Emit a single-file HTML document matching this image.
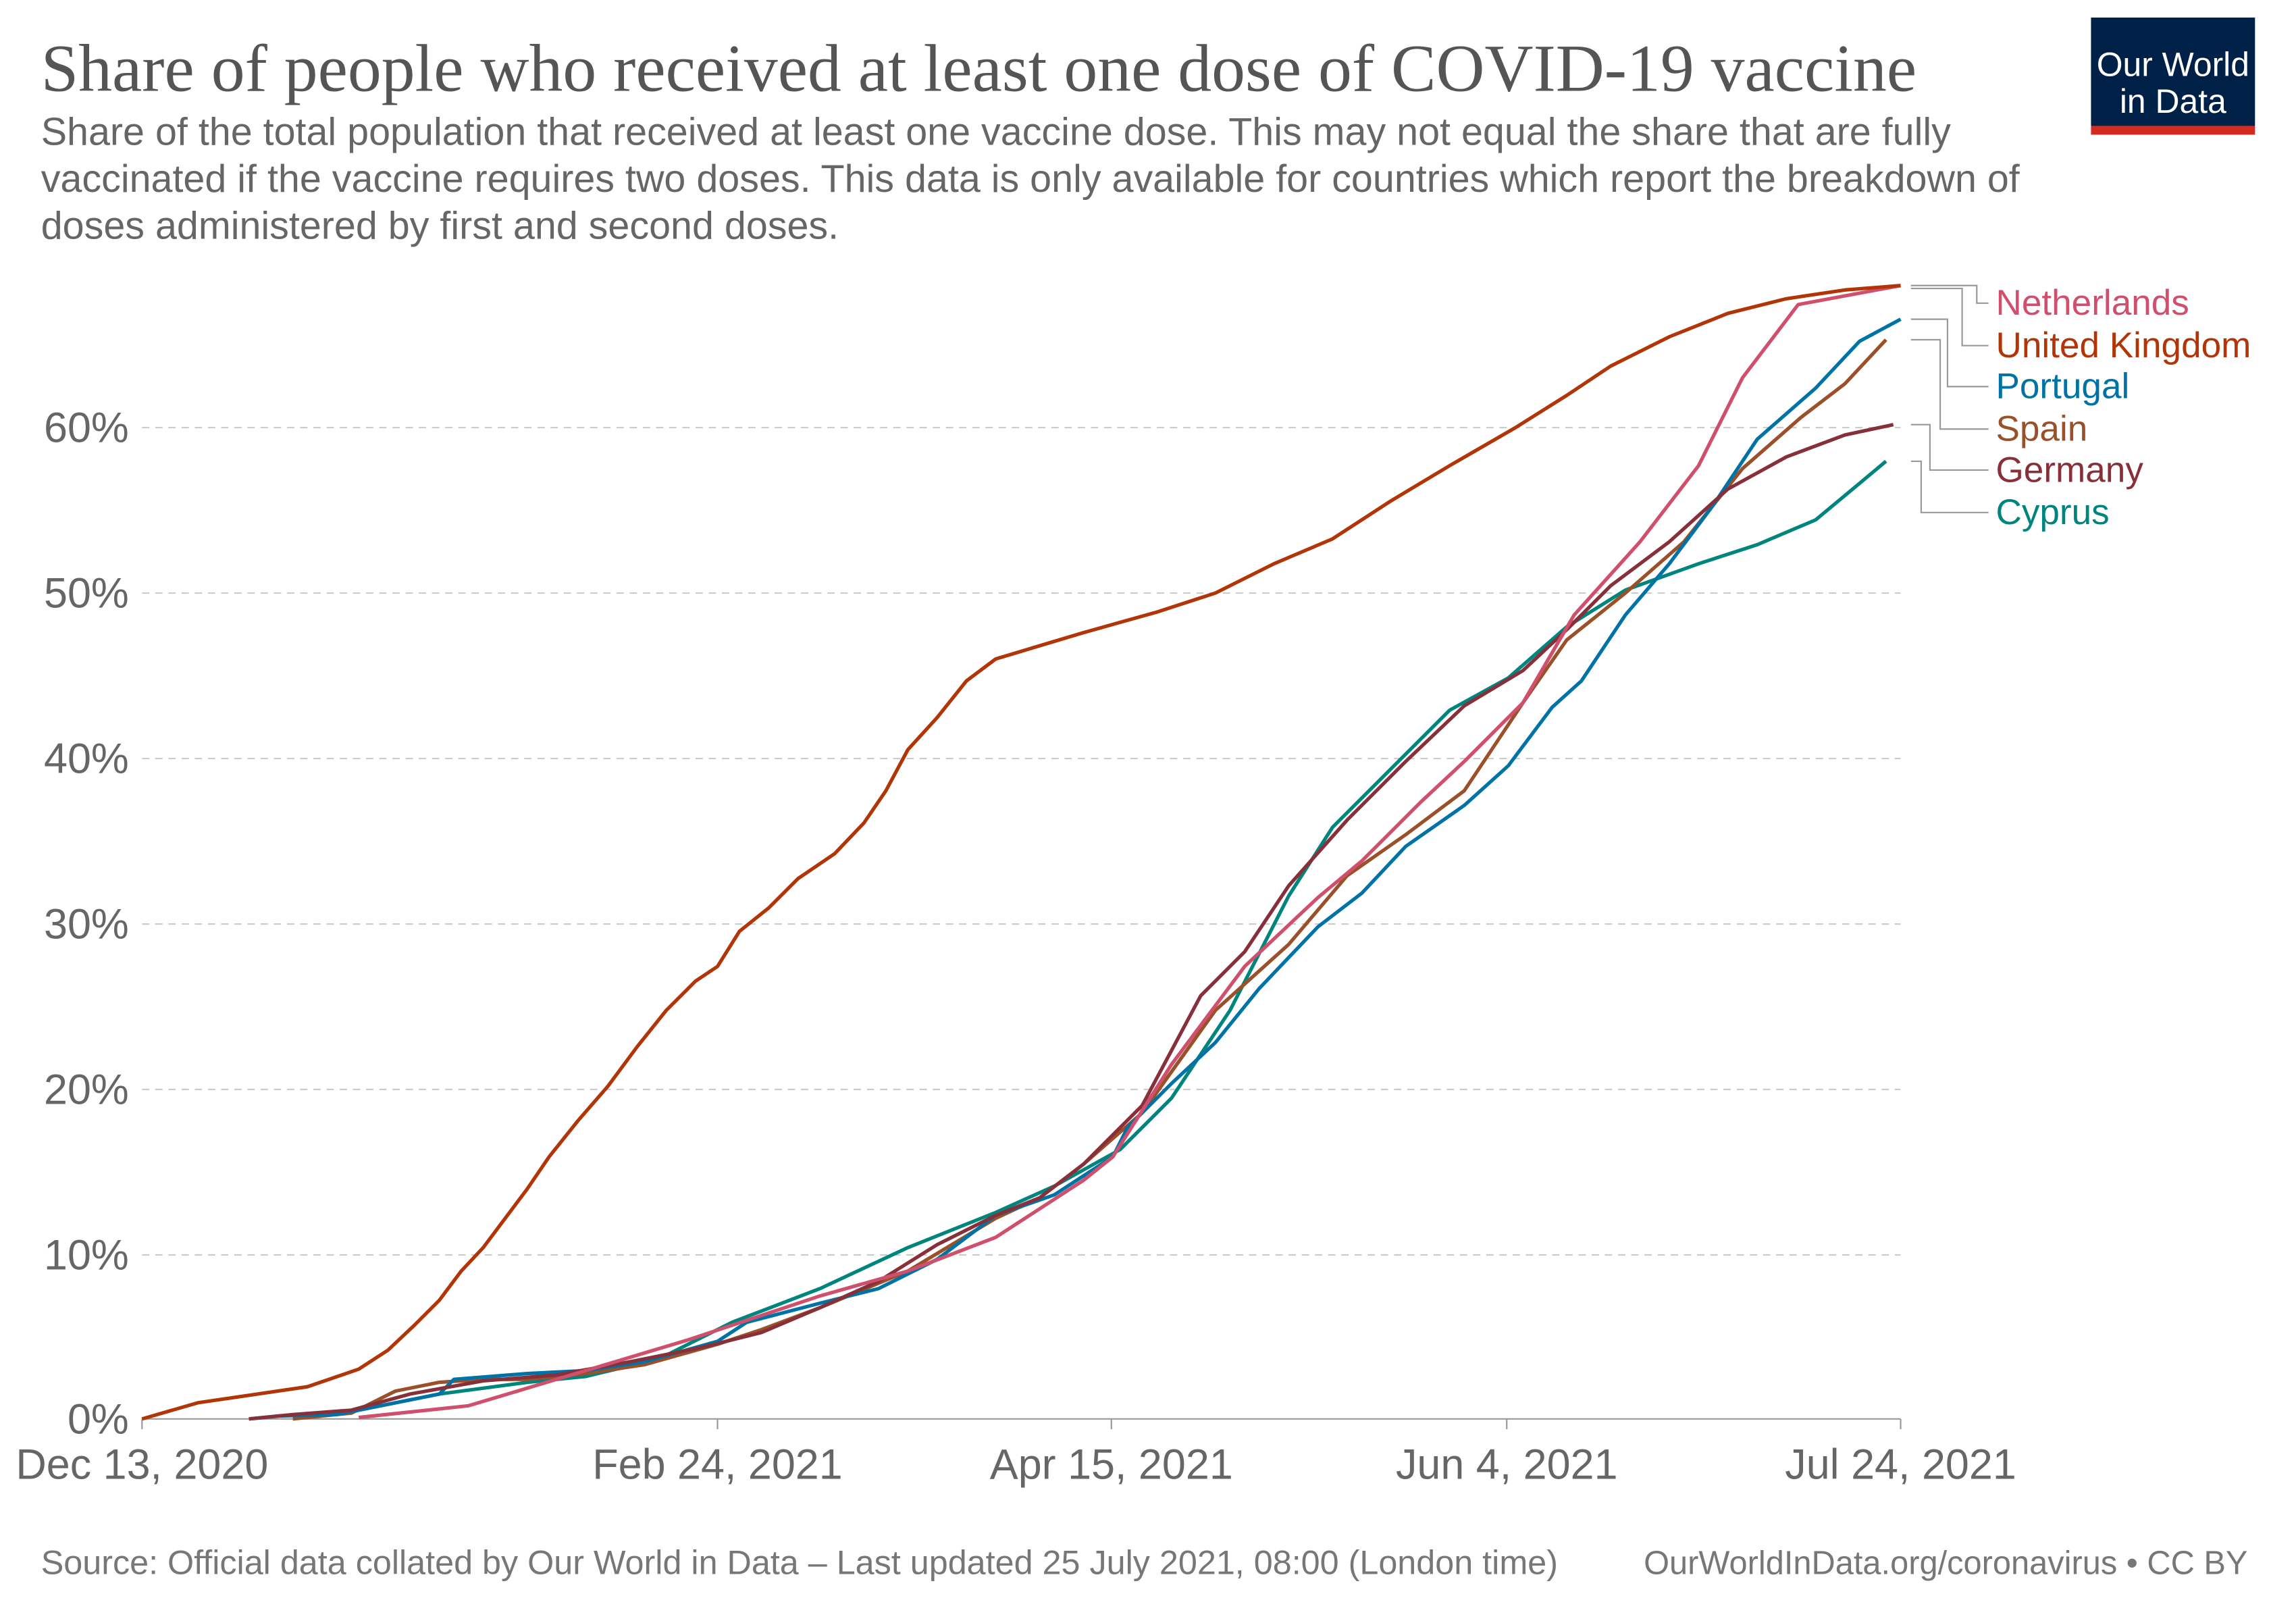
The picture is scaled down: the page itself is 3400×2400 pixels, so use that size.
<!DOCTYPE html>
<html><head><meta charset="utf-8"><style>html,body{margin:0;padding:0;background:#fff}svg{display:block}</style></head>
<body>
<svg width="3400" height="2400" viewBox="0 0 1568 1107" preserveAspectRatio="none" xmlns="http://www.w3.org/2000/svg" font-family="Liberation Sans, sans-serif">
<rect width="1568" height="1107" fill="#fff"/>
<text x="28" y="62" font-family="Liberation Serif, serif" font-size="46" fill="#555">Share of people who received at least one dose of COVID-19 vaccine</text>
<g font-size="26.5" fill="#666">
<text x="28" y="99">Share of the total population that received at least one vaccine dose. This may not equal the share that are fully</text>
<text x="28" y="131">vaccinated if the vaccine requires two doses. This data is only available for countries which report the breakdown of</text>
<text x="28" y="163">doses administered by first and second doses.</text>
</g>
<rect x="1428" y="12" width="112" height="74" fill="#002147"/>
<rect x="1428" y="86" width="112" height="6" fill="#d42b21"/>
<text x="1484" y="52" font-size="23" fill="#fff" text-anchor="middle">Our World</text>
<text x="1484" y="77" font-size="23" fill="#fff" text-anchor="middle">in Data</text>
<g stroke="#ccc" stroke-dasharray="5,4" stroke-width="1">
<line x1="97" x2="1298" y1="857" y2="857"/><line x1="97" x2="1298" y1="744" y2="744"/><line x1="97" x2="1298" y1="631" y2="631"/><line x1="97" x2="1298" y1="518" y2="518"/><line x1="97" x2="1298" y1="405" y2="405"/><line x1="97" x2="1298" y1="292" y2="292"/>
</g>
<line x1="97" x2="1298" y1="969" y2="969" stroke="#999"/>
<g stroke="#999"><line x1="97" x2="97" y1="969" y2="976"/><line x1="490" x2="490" y1="969" y2="976"/><line x1="759" x2="759" y1="969" y2="976"/><line x1="1029" x2="1029" y1="969" y2="976"/><line x1="1298" x2="1298" y1="969" y2="976"/></g>
<g font-size="29" fill="#666" text-anchor="end">
<text x="88" y="979">0%</text><text x="88" y="867">10%</text><text x="88" y="754">20%</text><text x="88" y="641">30%</text><text x="88" y="528">40%</text><text x="88" y="415">50%</text><text x="88" y="302">60%</text>
</g>
<g font-size="29" fill="#666" text-anchor="middle">
<text x="97" y="1010">Dec 13, 2020</text><text x="490" y="1010">Feb 24, 2021</text><text x="759" y="1010">Apr 15, 2021</text><text x="1029" y="1010">Jun 4, 2021</text><text x="1298" y="1010">Jul 24, 2021</text>
</g>
<g fill="none" stroke-width="2.4" stroke-linejoin="round">
<polyline stroke="#00847e" points="240,964 300,952 360,944 400,940 450,928 500,903 560,880 620,852 680,828 720,810 765,785 800,750 840,690 880,612 910,565 950,525 990,485 1030,463 1070,428 1110,403 1160,385 1200,372 1240,355 1270,330 1288,315"/>
<polyline stroke="#9a5129" points="200,969 240,965 270,950 300,944 330,942 360,942 400,938 440,932 490,918 520,908 560,893 620,868 680,832 710,818 740,795 780,760 830,690 880,645 920,598 960,570 1000,540 1040,480 1070,437 1110,405 1150,370 1190,320 1230,285 1260,262 1288,232"/>
<polyline stroke="#0073a6" points="170,969 190,967 230,966 260,960 300,952 310,942 360,938 400,936 440,930 490,916 510,903 560,890 600,880 640,860 680,830 720,816 760,790 770,770 800,740 830,712 860,675 900,633 930,610 960,578 1000,550 1030,523 1060,483 1080,465 1110,420 1140,385 1170,345 1200,300 1240,265 1270,233 1298,218"/>
<polyline stroke="#883039" points="170,969 200,966 240,963 280,952 330,943 380,939 430,930 480,920 520,910 560,893 600,875 640,850 680,830 710,818 740,795 780,755 820,680 850,650 880,605 920,560 960,520 1000,482 1040,458 1070,430 1100,400 1140,370 1180,334 1220,312 1260,297 1293,290"/>
<polyline stroke="#cf4f6d" points="245,968 320,960 370,945 420,930 470,915 500,905 560,885 620,868 680,845 740,806 760,790 800,727 850,660 900,613 930,588 970,548 1000,520 1040,480 1075,420 1120,370 1160,318 1190,258 1228,208 1298,195"/>
<polyline stroke="#b13507" points="97,969 135,958 210,947 245,935 265,922 283,905 300,888 315,868 330,852 345,832 360,812 375,790 395,765 415,742 435,715 455,690 475,670 490,660 505,636 525,620 545,600 570,583 590,562 605,540 620,512 640,490 660,465 680,450 700,444 740,432 790,418 830,405 870,385 910,368 950,342 990,318 1035,292 1070,270 1100,250 1140,230 1180,214 1220,204 1260,198 1298,195"/>
</g>
<g fill="none" stroke="#999" stroke-width="1">
<polyline points="1305,195 1350,195 1350,207 1358,207"/>
<polyline points="1305,197 1340,197 1340,236 1358,236"/>
<polyline points="1305,218 1330,218 1330,264 1358,264"/>
<polyline points="1305,232 1325,232 1325,293 1358,293"/>
<polyline points="1305,290 1318,290 1318,321 1358,321"/>
<polyline points="1305,315 1312,315 1312,350 1358,350"/>
</g>
<g font-size="24.5">
<text x="1363" y="215" fill="#cf4f6d">Netherlands</text>
<text x="1363" y="244" fill="#b13507">United Kingdom</text>
<text x="1363" y="272" fill="#0073a6">Portugal</text>
<text x="1363" y="301" fill="#9a5129">Spain</text>
<text x="1363" y="329" fill="#883039">Germany</text>
<text x="1363" y="358" fill="#00847e">Cyprus</text>
</g>
<text x="28" y="1075" font-size="23.2" fill="#777">Source: Official data collated by Our World in Data – Last updated 25 July 2021, 08:00 (London time)</text>
<text x="1535" y="1075" font-size="22.5" fill="#777" text-anchor="end">OurWorldInData.org/coronavirus • CC BY</text>
</svg>
</body></html>
